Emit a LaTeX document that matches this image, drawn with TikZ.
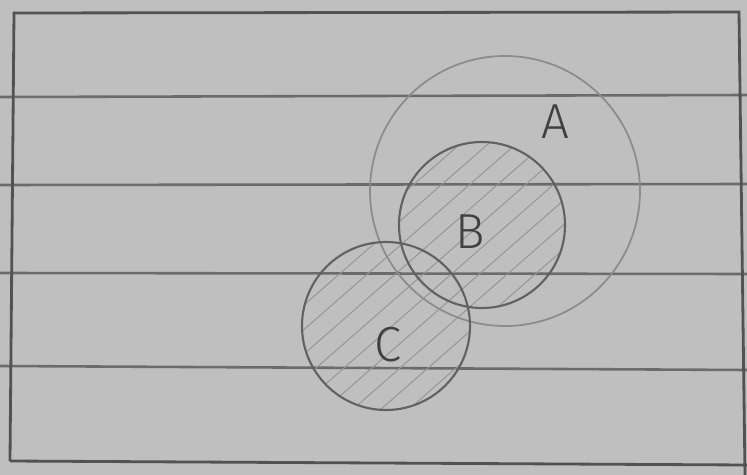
\documentclass[tikz,border=0pt]{standalone}
\usepackage{fontspec}
\setmainfont{Fira Sans}
\newfontfamily\handfont{Fira Sans Light}
\begin{document}
\begin{tikzpicture}[x=0.03cm,y=-0.03cm,
  rule/.style={draw=black!58, line width=2.2pt},
  frameline/.style={draw=black!68, line width=2.4pt},
  circA/.style={circle, draw=black!45, line width=1.5pt, minimum size=270*0.03cm, inner sep=0pt},
  circB/.style={circle, draw=black!62, line width=1.8pt, minimum size=166*0.03cm, inner sep=0pt},
  circC/.style={circle, draw=black!62, line width=1.8pt, minimum size=168*0.03cm, inner sep=0pt},
  hatch/.style={draw=black!42, line width=0.8pt},
  lab/.style={font=\handfont\fontsize{42}{42}\selectfont, text=black!75, inner sep=0pt}]
\fill[black!25] (0,0) rectangle (747,475);
\useasboundingbox (0,0) rectangle (747,475);
% ruled lines
\coordinate (r1a) at (0,97); \coordinate (r1b) at (747,95);
\coordinate (r2a) at (0,185); \coordinate (r2b) at (747,184);
\coordinate (r3a) at (0,273); \coordinate (r3b) at (747,274);
\coordinate (r4a) at (0,366); \coordinate (r4b) at (747,370);
\draw[rule] (r1a) -- (r1b);
\draw[rule] (r2a) -- (r2b);
\draw[rule] (r3a) -- (r3b);
\draw[rule] (r4a) -- (r4b);
% frame
\coordinate (f1) at (14,13); \coordinate (f2) at (739,12);
\coordinate (f3) at (745,475); \coordinate (f4) at (10,461);
\coordinate (f5) at (747,465);
\draw[frameline] (f4) -- (f1) -- (f2) -- (f3);
\draw[frameline] (f4) -- (f5);
% hatching in B union C
\begin{scope}
  \clip (482,225) circle[radius=83] (386,326) circle[radius=84];
  \foreach \k in {-20,...,20} {
    \draw[hatch] (300+\k*28,480) -- (700+\k*28,130);
  }
\end{scope}
% circles
\node[circA] (A) at (505,191) {};
\node[circB] (B) at (482,225) {};
\node[circC] (C) at (386,326) {};
% labels
\node[lab] (la) at (555,122) {A};
\node[lab] (lb) at (470,232) {B};
\node[lab] (lc) at (388,345) {C};
\end{tikzpicture}
\end{document}
